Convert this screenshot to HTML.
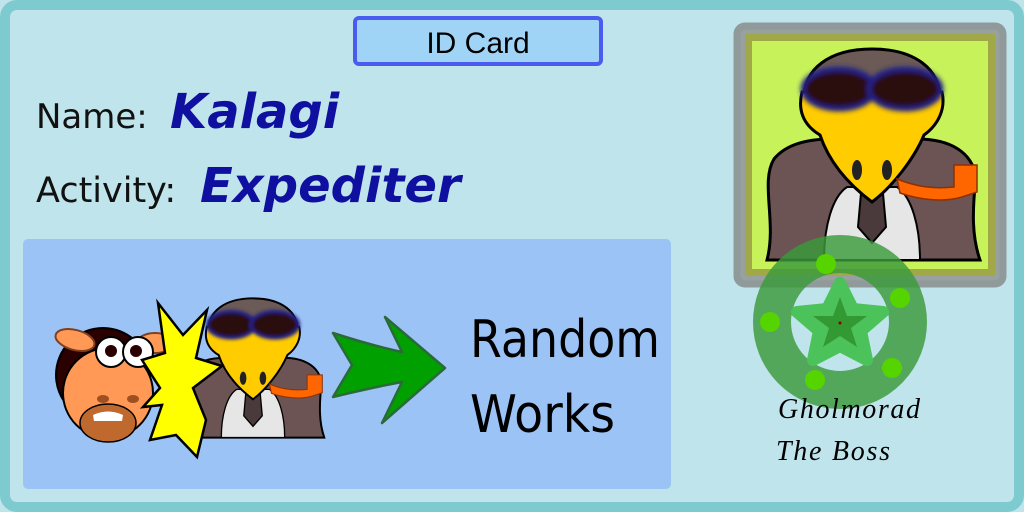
<!DOCTYPE html>
<html><head><style>html,body{margin:0;padding:0;background:#c0e4ec}svg{display:block}</style></head><body>
<svg width="1024" height="512" viewBox="0 0 1024 512" xmlns="http://www.w3.org/2000/svg">
<defs>
<filter id="bl" x="-30%" y="-30%" width="160%" height="160%"><feGaussianBlur stdDeviation="2.5"/></filter>
<g id="peng">
 <path d="M-105 213 C-95 175 -112 135 -98 112 C-85 96 -62 92 -40 92 L45 92 C78 92 100 105 104 130 C100 165 100 190 108 213 Z" fill="#6b5453" stroke="#000" stroke-width="3"/>
 <path d="M-48 213 C-48 180 -40 150 -25 140 L25 140 C40 150 48 180 48 213 Z" fill="#e6e6e6" stroke="#000" stroke-width="2"/>
 <path d="M-10 135 L10 135 L14 180 L0 196 L-14 180 Z" fill="#4a3a3c" stroke="#000" stroke-width="2"/>
 <path d="M-68 60 C-72 20 -40 2 0 2 C40 2 72 20 68 60 Z" fill="#6b5a56" stroke="#000" stroke-width="3"/>
 <path d="M-70 45 C-76 70 -62 82 -52 88 C-42 118 -20 140 0 155 C20 140 42 112 52 88 C66 78 74 62 70 45 Z" fill="#ffcc00" stroke="#000" stroke-width="3"/>
 <g filter="url(#bl)"><ellipse cx="-33" cy="42" rx="36" ry="20" fill="#2a0e10" stroke="#22228a" stroke-width="5"/><ellipse cx="33" cy="42" rx="36" ry="20" fill="#2a0e10" stroke="#22228a" stroke-width="5"/></g>
 <ellipse cx="-15" cy="123" rx="5" ry="10" fill="#222"/><ellipse cx="15" cy="123" rx="5" ry="10" fill="#222"/>
 <path d="M25 132 C45 140 62 142 82 140 L82 118 L105 118 L105 145 L90 150 C70 156 45 152 28 146 Z" fill="#ff6600" stroke="#903000" stroke-width="1.5"/>
</g>
</defs>
<rect x="5" y="5" width="1014" height="502" rx="12" fill="#c0e4ec" stroke="#7ecbcf" stroke-width="10"/>
<rect x="355" y="18" width="246" height="46" rx="4" fill="#9fd4f7" stroke="#4a5cf0" stroke-width="4"/>
<text x="478" y="53" font-family="Liberation Sans, sans-serif" font-size="30" text-anchor="middle" fill="#000">ID Card</text>
<text x="36" y="128" font-family="DejaVu Sans, sans-serif" font-size="34" fill="#111">Name:</text>
<text x="170" y="128" font-family="DejaVu Sans, sans-serif" font-size="48" font-weight="bold" font-style="italic" fill="#1010a0">Kalagi</text>
<text x="36" y="202" font-family="DejaVu Sans, sans-serif" font-size="35" fill="#111">Activity:</text>
<text x="200" y="202" font-family="DejaVu Sans, sans-serif" font-size="48" font-weight="bold" font-style="italic" fill="#1010a0">Expediter</text>
<rect x="23" y="239" width="648" height="250" rx="5" fill="#9cc3f5"/>
<text x="470" y="357" font-family="DejaVu Sans, sans-serif" font-size="52" textLength="190" lengthAdjust="spacingAndGlyphs" fill="#000">Random</text>
<text x="470" y="432" font-family="DejaVu Sans, sans-serif" font-size="52" textLength="145" lengthAdjust="spacingAndGlyphs" fill="#000">Works</text>
<!-- cow -->
<circle cx="103" cy="375" r="47" fill="#2a0000" stroke="#000" stroke-width="2"/>
<ellipse cx="75" cy="340" rx="20" ry="10" fill="#ff9955" stroke="#804020" stroke-width="2" transform="rotate(15 75 340)"/>
<ellipse cx="155" cy="343" rx="18" ry="10" fill="#ff9955" stroke="#804020" stroke-width="2"/>
<circle cx="108" cy="393" r="45" fill="#ff9955" stroke="#000" stroke-width="2"/>
<ellipse cx="108" cy="423" rx="28" ry="19" fill="#c0692f" stroke="#000" stroke-width="1.5"/>
<path d="M93 415 Q108 408 123 415 L122 421 L94 421Z" fill="#fff"/>
<ellipse cx="111" cy="352" rx="15" ry="15" fill="#fff" stroke="#000" stroke-width="2"/>
<ellipse cx="138" cy="352" rx="15" ry="15" fill="#fff" stroke="#000" stroke-width="2"/>
<circle cx="111" cy="351" r="6" fill="#2a0000"/><circle cx="136" cy="351" r="6" fill="#2a0000"/>
<ellipse cx="103" cy="399" rx="6" ry="4" fill="#a05020"/><ellipse cx="133" cy="399" rx="6" ry="4" fill="#a05020"/>
<use href="#peng" transform="translate(253 297) scale(0.66)"/>
<path d="M158 303 L183 335 L207 310 L196 358 L222 366 L193 388 L206 420 L197 457 L176 435 L150 440 L162 405 L143 407 L160 388 L142 360 L165 353 Z" fill="#ffff00" stroke="#000" stroke-width="2.5"/>
<path d="M333 333 Q370 345 402 352 L385 317 L445 368 L382 423 L402 382 Q370 388 333 397 L352 365 Z" fill="#00a000" stroke="#2a6a3a" stroke-width="2.5" stroke-linejoin="round"/>
<!-- portrait -->
<rect x="737" y="26" width="266" height="258" rx="8" fill="#98a0a0" stroke="#909a9a" stroke-width="7"/>
<rect x="745" y="34" width="250" height="242" fill="#a0a848"/>
<rect x="752" y="41" width="236" height="228" fill="#c8f25a"/>
<use href="#peng" transform="translate(872 47)"/>
<!-- seal -->
<circle cx="840" cy="322" r="68" fill="none" stroke="#3a9a3a" stroke-width="38" opacity="0.82"/>
<path d="M840 283 L853 309 L883 312 L861 331 L867 360 L840 346 L813 360 L819 331 L797 312 L827 309 Z" fill="#4cc25a" stroke="#4cc25a" stroke-width="12" stroke-linejoin="round"/>
<path d="M840 297 L847 316 L867 316 L851 328 L857 347 L840 336 L823 347 L829 328 L813 316 L833 316 Z" fill="#339933"/>
<circle cx="840" cy="323" r="1.5" fill="#800"/>
<g fill="#55d400"><circle cx="826" cy="264" r="10"/><circle cx="900" cy="298" r="10"/><circle cx="770" cy="322" r="10"/><circle cx="892" cy="368" r="10"/><circle cx="815" cy="380" r="10"/></g>
<text x="778" y="418" font-family="Liberation Serif, serif" font-style="italic" font-size="28" textLength="142" fill="#000">Gholmorad</text>
<text x="776" y="460" font-family="Liberation Serif, serif" font-style="italic" font-size="28" textLength="114" fill="#000">The Boss</text>
</svg>
</body></html>
